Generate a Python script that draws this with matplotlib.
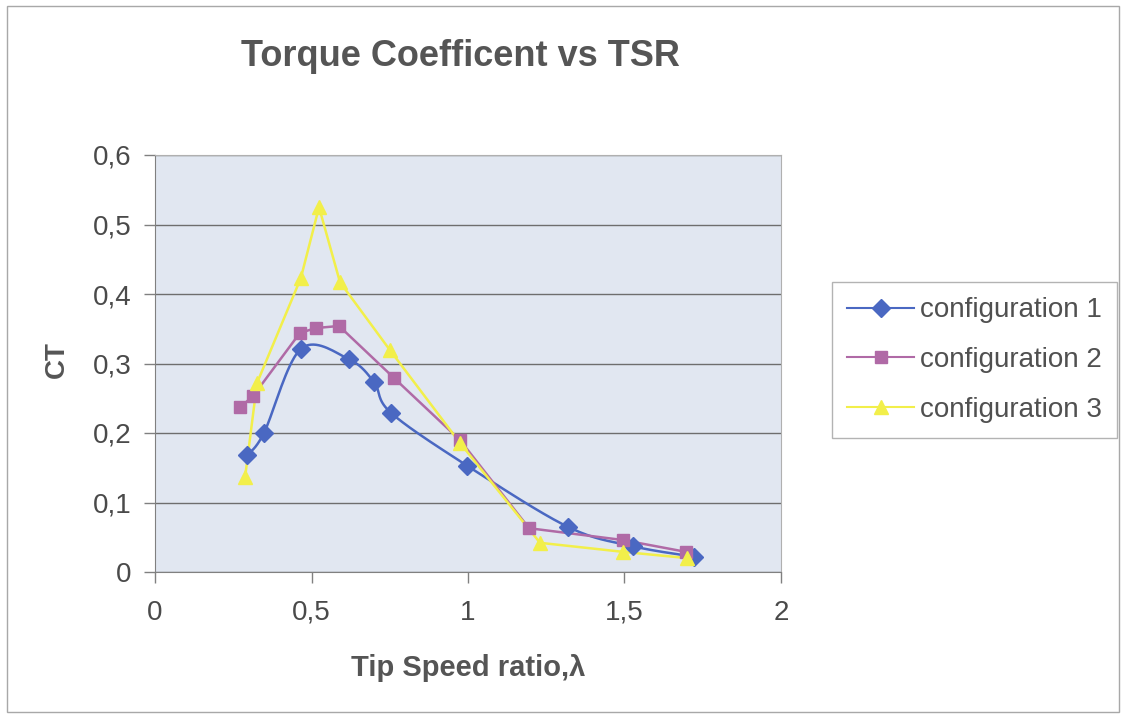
import matplotlib
matplotlib.use("Agg")
import matplotlib.pyplot as plt
import numpy as np
from matplotlib.patches import Rectangle
from matplotlib.ticker import FuncFormatter

plt.rcParams["font.family"] = ["Liberation Sans", "DejaVu Sans"]

labels = ["configuration 1", "configuration 2", "configuration 3"]

tsr_1 = [0.294, 0.348, 0.466, 0.620, 0.700, 0.754, 0.997, 1.319, 1.527, 1.722]
ct_1 = [0.168, 0.200, 0.321, 0.306, 0.273, 0.229, 0.153, 0.065, 0.037, 0.022]

tsr_2 = [0.272, 0.313, 0.463, 0.514, 0.588, 0.764, 0.974, 1.195, 1.495, 1.696]
ct_2 = [0.237, 0.253, 0.344, 0.351, 0.354, 0.279, 0.190, 0.063, 0.046, 0.029]

tsr_3 = [0.288, 0.326, 0.466, 0.524, 0.591, 0.751, 0.974, 1.230, 1.495, 1.700]
ct_3 = [0.137, 0.272, 0.423, 0.525, 0.417, 0.319, 0.186, 0.042, 0.029, 0.020]

x_ticks = [0, 0.5, 1, 1.5, 2]
y_ticks = [0, 0.1, 0.2, 0.3, 0.4, 0.5, 0.6]

colors = ["#4a68c2", "#b06aa6", "#f2ef4a"]
markers = ["D", "s", "^"]
marker_sizes = [9, 9, 10]
smoothed = [True, False, False]


def smooth(x, y, steps=20):
    # Excel-style smoothed line: cubic Bezier through points, Catmull-Rom tangents
    x = np.asarray(x, float)
    y = np.asarray(y, float)
    pts = np.column_stack([x, y])
    out = [pts[0]]
    n = len(pts)
    for i in range(n - 1):
        p0 = pts[i - 1] if i > 0 else pts[i]
        p1 = pts[i]
        p2 = pts[i + 1]
        p3 = pts[i + 2] if i + 2 < n else pts[i + 1]
        c1 = p1 + (p2 - p0) / 6.0
        c2 = p2 - (p3 - p1) / 6.0
        t = np.linspace(0, 1, steps)[1:, None]
        seg = ((1 - t) ** 3) * p1 + 3 * ((1 - t) ** 2) * t * c1 + 3 * (1 - t) * t ** 2 * c2 + t ** 3 * p2
        out.extend(seg)
    out = np.array(out)
    return out[:, 0], out[:, 1]


fig = plt.figure(figsize=(11.27, 7.24), dpi=100)
fig.patch.set_facecolor("white")
fig.patches.append(Rectangle((0.006, 0.016), 0.987, 0.976, transform=fig.transFigure,
                             fill=False, edgecolor="#a8a8a8", linewidth=1.0))

W, H = 1127, 724
ax = fig.add_axes([155 / W, 1 - 572 / H, (781 - 155) / W, (572 - 155) / H])
ax.set_facecolor("#e1e7f1")

series = [(tsr_1, ct_1), (tsr_2, ct_2), (tsr_3, ct_3)]
handles = []
for (xs, ys), c, m, ms, sm, lab in zip(series, colors, markers, marker_sizes, smoothed, labels):
    if sm:
        sx, sy = smooth(xs, ys)
    else:
        sx, sy = xs, ys
    ax.plot(sx, sy, color=c, linewidth=1.8, zorder=3)
    ax.plot(xs, ys, linestyle="none", marker=m, markersize=ms, color=c,
            markeredgecolor=c, zorder=4)
    h, = ax.plot([], [], color=c, linewidth=1.5, marker=m, markersize=ms, label=lab)
    handles.append(h)

ax.set_xlim(0, 2)
ax.set_ylim(0, 0.6)
ax.set_xticks(x_ticks)
ax.set_yticks(y_ticks)
fmt = FuncFormatter(lambda v, p: ("%g" % round(v, 2)).replace(".", ","))
ax.xaxis.set_major_formatter(fmt)
ax.yaxis.set_major_formatter(fmt)
ax.tick_params(axis="both", labelsize=20, labelcolor="#4a4a4a", colors="#808080",
               length=8, width=1, direction="out")
ax.tick_params(axis="x", pad=12)
ax.tick_params(axis="y", pad=9)
ax.yaxis.grid(True, color="#6e6e6e", linewidth=1.0)
ax.set_axisbelow(True)
for side in ["top", "right"]:
    ax.spines[side].set_color("#b0b0b0")
for side in ["left", "bottom"]:
    ax.spines[side].set_color("#808080")

fig.text(460 / W, 1 - 57 / H, "Torque Coefficent vs TSR", ha="center", va="center",
         fontsize=26, fontweight="bold", color="#555555")
fig.text(468 / W, 1 - 668 / H, "Tip Speed ratio,λ", ha="center", va="center",
         fontsize=21, fontweight="bold", color="#555555")
fig.text(57 / W, 1 - 360 / H, "CT", ha="center", va="center", rotation=90,
         fontsize=20, fontweight="bold", color="#555555")

leg = fig.legend(handles=handles, loc="upper left",
                 bbox_to_anchor=(832 / W, 1 - 282 / H), fontsize=20,
                 frameon=True, fancybox=False, edgecolor="#a0a0a0",
                 handlelength=2.4, labelspacing=0.85, borderpad=0.55,
                 handletextpad=0.2, borderaxespad=0)
for t in leg.get_texts():
    t.set_color("#505050")

fig.savefig("out.png", dpi=100)
